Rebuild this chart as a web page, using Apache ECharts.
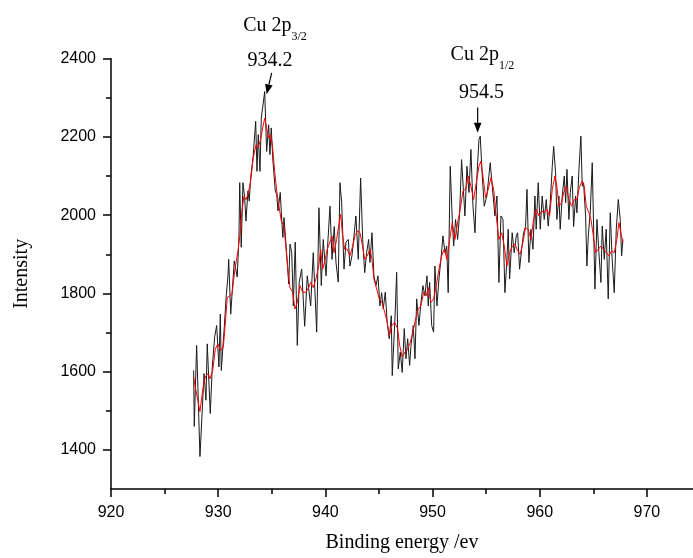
<!DOCTYPE html>
<html>
<head>
<meta charset="utf-8">
<script src="https://cdn.jsdelivr.net/npm/echarts@6/dist/echarts.min.js"></script>
<style>
html,body{margin:0;padding:0;background:#fff;}
#chart{width:693px;height:558px;}
</style>
</head>
<body>
<div id="chart"></div>
<script>
// ---- data ----
const rawEnergy = [927.71,927.77,927.99,928.30,928.68,928.86,928.98,929.26,929.45,929.67,929.86,930.07,930.20,930.29,930.54,930.76,930.91,930.98,931.17,931.50,931.78,931.94,932.01,932.15,932.31,932.47,932.59,932.78,932.90,933.03,933.25,933.50,933.62,933.74,933.90,934.02,934.34,934.52,934.71,934.83,934.95,935.11,935.33,935.46,935.58,935.79,935.95,936.04,936.14,936.35,936.58,936.70,936.86,937.01,937.19,937.38,937.56,937.79,938.07,938.31,938.63,938.87,939.19,939.40,939.62,939.80,940.06,940.21,940.43,940.62,940.83,940.99,941.20,941.36,941.52,941.74,941.92,942.14,942.29,942.48,942.67,942.85,943.07,943.29,943.48,943.67,943.85,944.04,944.16,944.35,944.53,944.72,944.91,945.09,945.25,945.40,945.59,945.77,945.96,946.15,946.24,946.49,946.65,946.80,946.99,947.17,947.36,947.52,947.68,947.86,947.99,948.20,948.36,948.52,948.73,948.92,949.10,949.29,949.48,949.60,949.73,949.92,950.10,950.22,950.41,950.60,950.78,950.97,951.16,951.32,951.46,951.65,951.84,951.97,952.15,952.34,952.53,952.71,952.86,953.02,953.21,953.40,953.58,953.77,953.96,954.14,954.33,954.45,954.64,954.82,955.07,955.38,955.57,955.82,956.01,956.19,956.38,956.57,956.75,956.94,957.06,957.19,957.31,957.43,957.62,957.81,957.94,958.12,958.31,958.50,958.68,958.81,958.99,959.18,959.37,959.55,959.67,959.86,960.05,960.23,960.42,960.61,960.79,960.98,961.17,961.30,961.48,961.60,961.79,961.91,962.10,962.29,962.42,962.54,962.72,962.85,963.03,963.16,963.35,963.47,963.66,963.84,963.97,964.09,964.28,964.40,964.53,964.71,964.90,965.03,965.15,965.34,965.52,965.71,965.83,966.02,966.20,966.39,966.58,966.76,966.95,967.14,967.33,967.51,967.64,967.76];
const rawIntensity = [1603,1460,1667,1383,1595,1527,1671,1493,1612,1689,1718,1612,1747,1603,1702,1798,1842,1887,1747,1883,1842,1948,2083,1918,2083,2045,1985,2062,2036,2096,2147,2240,2112,2206,2112,2248,2316,2163,2231,2155,2223,2138,2062,2053,2011,2058,1977,1943,1994,1918,1824,1926,1905,1768,1931,1667,1829,1862,1716,1845,1768,1904,1701,2019,1820,1938,1845,1921,2023,1887,1971,1879,1829,2083,2032,1862,1931,1938,1870,1896,1947,1998,1887,2095,1938,1853,1904,1938,1879,1955,1845,1820,1845,1768,1802,1760,1803,1726,1684,1743,1590,1735,1854,1607,1650,1598,1710,1633,1684,1616,1667,1718,1633,1786,1718,1777,1820,1794,1845,1768,1828,1718,1701,1870,1768,1837,1887,1947,1904,1921,1802,2125,1989,1921,1989,1938,2006,2142,2074,1998,2125,2058,2168,2023,1955,2100,2193,2202,2100,2023,2049,2134,2074,1998,2049,1828,1998,1989,1802,1887,1964,1837,1896,1955,1904,1947,1955,1862,1913,1955,1972,2066,1879,1964,1913,2049,1964,2083,1964,2049,1989,2040,1972,2032,2125,2176,2108,1989,2049,1964,2049,2100,2032,2117,1989,2058,2100,1971,2049,2006,2117,2202,2074,2083,1998,1870,1947,2006,2134,1964,1811,1989,1904,1828,1972,1887,1964,1786,2006,1887,1802,1964,2040,1989,1896,1938];

const smoothEnergy = [927.71,927.86,928.30,928.55,928.80,929.05,929.24,929.49,929.73,929.98,930.23,930.48,930.66,930.85,931.10,931.29,931.54,931.85,932.03,932.22,932.41,932.59,932.78,933.03,933.27,933.53,933.71,933.96,934.15,934.34,934.52,934.71,934.90,935.08,935.27,935.46,935.64,935.89,936.14,936.32,936.51,936.70,936.95,937.16,937.38,937.63,937.88,938.19,938.44,938.63,938.87,939.12,939.38,939.56,939.75,939.99,940.18,940.36,940.62,940.80,941.05,941.24,941.43,941.61,941.80,942.04,942.29,942.55,942.79,943.04,943.23,943.41,943.67,943.91,944.16,944.35,944.53,944.79,945.03,945.28,945.53,945.77,945.96,946.21,946.46,946.74,946.93,947.17,947.43,947.68,947.92,948.17,948.42,948.67,948.92,949.17,949.41,949.60,949.85,950.10,950.35,950.60,950.85,951.09,951.34,951.60,951.84,952.09,952.34,952.58,952.84,953.09,953.33,953.58,953.83,954.08,954.33,954.51,954.70,954.95,955.20,955.45,955.70,955.94,956.19,956.45,956.69,956.94,957.19,957.44,957.69,957.94,958.18,958.43,958.68,958.93,959.18,959.43,959.67,959.93,960.18,960.42,960.67,960.92,961.17,961.42,961.60,961.79,962.04,962.23,962.47,962.72,962.98,963.22,963.47,963.72,963.96,964.15,964.34,964.59,964.78,964.96,965.21,965.46,965.71,965.96,966.20,966.46,966.71,966.95,967.20,967.39,967.57,967.76];
const smoothIntensity = [1587,1561,1498,1552,1587,1595,1582,1603,1658,1671,1654,1663,1722,1790,1794,1798,1858,1909,1951,2011,2049,2040,2053,2087,2146,2180,2172,2193,2223,2248,2223,2197,2206,2172,2112,2062,2028,1985,1972,1917,1858,1815,1803,1760,1777,1820,1803,1803,1815,1828,1815,1837,1870,1913,1862,1887,1913,1926,1947,1904,1938,1972,2002,1947,1913,1913,1896,1921,1951,1960,1955,1930,1887,1896,1913,1887,1837,1811,1786,1777,1752,1726,1692,1718,1726,1710,1667,1637,1650,1658,1675,1701,1735,1760,1768,1803,1794,1815,1777,1786,1820,1862,1896,1913,1887,1938,1981,1938,1981,2015,2062,2066,2100,2074,2040,2083,2125,2138,2100,2045,2066,2096,2066,1998,1938,1955,1921,1870,1904,1921,1926,1909,1900,1930,1968,1964,1938,1989,2015,1998,2011,2006,2015,1998,2066,2100,2074,2023,2032,2058,2074,2040,2023,2040,2040,2074,2087,2074,2023,2006,1989,1955,1904,1913,1921,1913,1904,1896,1909,1904,1938,1981,1955,1930];

const xTickValues = [920, 930, 940, 950, 960, 970];
const xMinorValues = [925, 935, 945, 955, 965];
const yTickValues = [1400, 1600, 1800, 2000, 2200, 2400];
const yMinorValues = [1500, 1700, 1900, 2100, 2300];

// annotations
const peakTitles = ['Cu 2p', 'Cu 2p'];
const peakSubs = ['3/2', '1/2'];
const peakLabels = ['934.2', '954.5'];
const arrowTips = [[934.52, 2309], [954.21, 2211]];
const arrowTails = [[934.99, 2364], [954.21, 2275]];
const labelPos = [[934.83, 2395], [954.56, 2313]];
const titlePos = [[935.30, 2466], [954.65, 2393]];

// ---- chart ----
const chart = echarts.init(document.getElementById('chart'), null, {renderer: 'canvas'});
const blackData = rawEnergy.map((e, i) => [e, rawIntensity[i]]);
const redData = smoothEnergy.map((e, i) => [e, smoothIntensity[i]]);

const axisColor = '#000';
const sansFont = '"Liberation Sans", Arial, sans-serif';
const serifFont = '"Liberation Serif", "Times New Roman", serif';
const plain = v => String(v);

const option = {
  animation: false,
  backgroundColor: '#fff',
  grid: {left: 111, top: 58.7, right: 0, bottom: 67.3, containLabel: false},
  xAxis: [{
    type: 'value', min: 920, max: 974.3, position: 'bottom',
    name: 'Binding energy /ev', nameLocation: 'middle', nameGap: 44,
    nameTextStyle: {fontFamily: serifFont, fontSize: 20, color: '#000'},
    axisLine: {lineStyle: {color: axisColor, width: 1.5}},
    axisTick: {customValues: xTickValues, length: 8, lineStyle: {color: axisColor, width: 1.5}},
    axisLabel: {customValues: xTickValues, formatter: plain, margin: 16, fontFamily: sansFont, fontSize: 16, color: '#000'},
    splitLine: {show: false}
  }, {
    type: 'value', min: 920, max: 974.3, position: 'bottom',
    axisLine: {show: false},
    axisTick: {customValues: xMinorValues, length: 5, lineStyle: {color: axisColor, width: 1.5}},
    axisLabel: {show: false},
    splitLine: {show: false}
  }],
  yAxis: [{
    type: 'value', min: 1300, max: 2400, position: 'left',
    name: 'Intensity', nameLocation: 'middle', nameGap: 79,
    nameTextStyle: {fontFamily: serifFont, fontSize: 20, color: '#000'},
    axisLine: {show: true, lineStyle: {color: axisColor, width: 1.5}},
    axisTick: {show: true, customValues: yTickValues, length: 8, lineStyle: {color: axisColor, width: 1.5}},
    axisLabel: {customValues: yTickValues, formatter: plain, margin: 15, fontFamily: sansFont, fontSize: 16, color: '#000'},
    splitLine: {show: false}
  }, {
    type: 'value', min: 1300, max: 2400, position: 'left',
    axisLine: {show: false},
    axisTick: {show: true, customValues: yMinorValues, length: 5, lineStyle: {color: axisColor, width: 1.5}},
    axisLabel: {show: false},
    splitLine: {show: false}
  }],
  series: [{
    type: 'line', xAxisIndex: 0, yAxisIndex: 0, data: blackData,
    showSymbol: false, symbol: 'none',
    lineStyle: {color: '#1a1a1a', width: 1}, z: 2
  }, {
    type: 'line', xAxisIndex: 0, yAxisIndex: 0, data: redData,
    showSymbol: false, symbol: 'none',
    lineStyle: {color: '#ff0000', width: 1}, z: 3
  }]
};
chart.setOption(option);

// annotations positioned through the chart's own scales
function px(p) { return chart.convertToPixel({xAxisIndex: 0, yAxisIndex: 0}, p); }
const graphics = [];
for (let i = 0; i < peakTitles.length; i++) {
  const tip = px(arrowTips[i]);
  const tail = px(arrowTails[i]);
  const dx = tip[0] - tail[0], dy = tip[1] - tail[1];
  const len = Math.sqrt(dx * dx + dy * dy);
  const ux = dx / len, uy = dy / len;
  const headLen = 10, headW = 3.8;
  const bx = tip[0] - ux * headLen, by = tip[1] - uy * headLen;
  graphics.push({
    type: 'line', silent: true, z: 10,
    shape: {x1: tail[0], y1: tail[1], x2: bx, y2: by},
    style: {stroke: '#000', lineWidth: 1.2}
  });
  graphics.push({
    type: 'polygon', silent: true, z: 10,
    shape: {points: [[tip[0], tip[1]], [bx - uy * headW, by + ux * headW], [bx + uy * headW, by - ux * headW]]},
    style: {fill: '#000'}
  });
  const lp = px(labelPos[i]);
  graphics.push({
    type: 'text', silent: true, z: 10, x: lp[0], y: lp[1],
    style: {text: peakLabels[i], font: '20px ' + serifFont, fill: '#000', align: 'center', verticalAlign: 'middle'}
  });
  const tp = px(titlePos[i]);
  graphics.push({
    type: 'text', silent: true, z: 10, x: tp[0], y: tp[1],
    style: {
      text: '{a|' + peakTitles[i] + '}{b|' + peakSubs[i] + '}',
      align: 'center', verticalAlign: 'middle',
      rich: {
        a: {fontFamily: serifFont, fontSize: 20, color: '#000', lineHeight: 20, verticalAlign: 'bottom', padding: [0, 0, 7, 0]},
        b: {fontFamily: serifFont, fontSize: 12, color: '#000', lineHeight: 12, verticalAlign: 'bottom', padding: [14, 0, 0, 0]}
      }
    }
  });
}
chart.setOption({graphic: graphics});
</script>
</body>
</html>
